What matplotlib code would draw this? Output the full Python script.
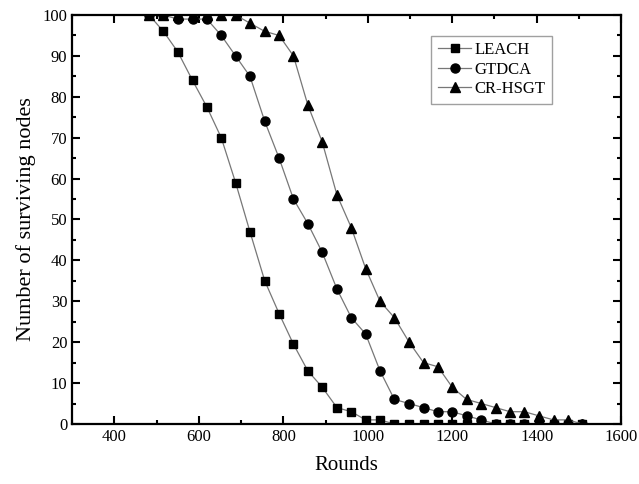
import matplotlib.pyplot as plt
from matplotlib.ticker import MultipleLocator

plt.rcParams['font.family'] = ['Liberation Serif', 'DejaVu Serif']

# rounds
rounds = [482, 516, 550, 585, 619, 653, 687, 721, 756, 790, 824, 858, 892, 927, 961,
          995, 1029, 1063, 1098, 1132, 1166, 1200, 1234, 1269, 1303, 1337, 1371,
          1405, 1440, 1474, 1508]

leach = [100, 96, 91, 84, 77.5, 70, 59, 47, 35, 27, 19.5, 13, 9, 4, 3,
         1, 1, 0, 0, 0, 0, 0, 0, 0, 0, 0, 0, 0, 0, 0, 0]
gtdca = [100, 100, 99, 99, 99, 95, 90, 85, 74, 65, 55, 49, 42, 33, 26,
         22, 13, 6, 5, 4, 3, 3, 2, 1, 0, 0, 0, 0, 0, 0, 0]
crhsgt = [100, 100, 100, 100, 100, 100, 100, 98, 96, 95, 90, 78, 69, 56, 48,
          38, 30, 26, 20, 15, 14, 9, 6, 5, 4, 3, 3, 2, 1, 1, 0]

fig = plt.figure(figsize=(6.39, 4.84), dpi=100)
ax = fig.add_axes([0.113, 0.124, 0.859, 0.845])

line_kw = dict(color='#777777', linewidth=0.9, markerfacecolor='black',
               markeredgecolor='black')
ax.plot(rounds, leach, marker='s', markersize=5.5, label='LEACH', **line_kw)
ax.plot(rounds, gtdca, marker='o', markersize=6.5, label='GTDCA', **line_kw)
ax.plot(rounds, crhsgt, marker='^', markersize=7.5, label='CR-HSGT', **line_kw)

ax.set_xlim(300, 1600)
ax.set_ylim(0, 100)
ax.xaxis.set_major_locator(MultipleLocator(200))
ax.xaxis.set_minor_locator(MultipleLocator(100))
ax.yaxis.set_major_locator(MultipleLocator(10))
ax.yaxis.set_minor_locator(MultipleLocator(5))
ax.tick_params(which='both', direction='in', top=True, right=True, width=1.5,
               labelsize=12)
ax.tick_params(which='major', length=6)
ax.tick_params(which='minor', length=3)
for s in ax.spines.values():
    s.set_linewidth(1.6)

ax.set_xlabel('Rounds', fontsize=15, labelpad=8)
ax.set_ylabel('Number of surviving nodes', fontsize=16, labelpad=5)

leg = ax.legend(loc='upper right', bbox_to_anchor=(0.89, 0.97), fontsize=12,
                fancybox=False, edgecolor='#888888', handlelength=2,
                handletextpad=0.2, borderpad=0.4, labelspacing=0.2)
leg.get_frame().set_linewidth(1.0)

fig.savefig('out.png', dpi=100)
